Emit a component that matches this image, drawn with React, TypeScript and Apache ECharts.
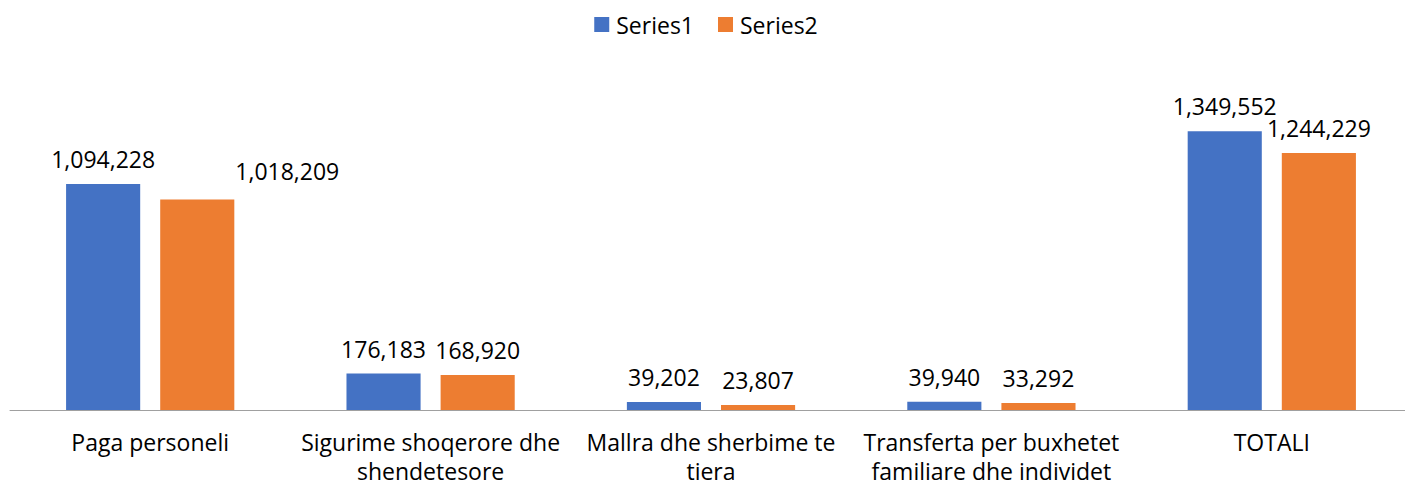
import React, { useEffect, useRef } from "react";
import * as echarts from "echarts";

const categories = [
  "Paga personeli",
  "Sigurime shoqerore dhe\nshendetesore",
  "Mallra dhe sherbime te\ntiera",
  "Transferta per buxhetet\nfamiliare dhe individet",
  "TOTALI",
];
const series1 = [1094228, 176183, 39202, 39940, 1349552];
const series2 = [1018209, 168920, 23807, 33292, 1244229];
const seriesNames = ["Series1", "Series2"];
const colors = ["#4472C4", "#ED7D31"];

const FONT = "'Open Sans', 'Noto Sans', sans-serif";

export default function App() {
  const ref = useRef<HTMLDivElement>(null);
  useEffect(() => {
    if (!ref.current) return;
    const chart = echarts.init(ref.current, null, { renderer: "svg" });
    const fmt = (p: any) => Number(p.value).toLocaleString("en-US");
    const labelBase = {
      show: true,
      position: "top",
      distance: 11,
      formatter: fmt,
      fontFamily: FONT,
      fontSize: 23,
      lineHeight: 28,
      color: "#000",
    };
    chart.setOption({
      animation: false,
      textStyle: { fontFamily: FONT },
      legend: {
        top: 8,
        left: "center",
        itemWidth: 15,
        itemHeight: 15,
        itemGap: 24,
        icon: "rect",
        textStyle: { fontFamily: FONT, fontSize: 23, color: "#000", padding: [0, 0, 0, 2] },
        data: seriesNames,
      },
      grid: {
        left: 10,
        right: 0,
        top: 79.4,
        bottom: 76,
        containLabel: false,
        outerBoundsMode: "none",
      },
      xAxis: {
        type: "category",
        data: categories,
        axisLine: { lineStyle: { color: "#a0a0a0", width: 1 } },
        axisTick: { show: false },
        axisLabel: {
          interval: 0,
          margin: 17,
          fontFamily: FONT,
          fontSize: 23,
          lineHeight: 29,
          color: "#000",
        },
      },
      yAxis: {
        type: "value",
        min: 0,
        max: 1600000,
        show: false,
        splitLine: { show: false },
      },
      series: [
        {
          name: seriesNames[0],
          type: "bar",
          data: series1,
          barGap: "27%",
          barCategoryGap: "40%",
          itemStyle: { color: colors[0] },
          label: labelBase,
        },
        {
          name: seriesNames[1],
          type: "bar",
          data: series2.map((v, i) =>
            i === 0 ? { value: v, label: { offset: [90, -4] } } : v
          ),
          barGap: "27%",
          barCategoryGap: "40%",
          itemStyle: { color: colors[1] },
          label: labelBase,
        },
      ],
    });
    return () => chart.dispose();
  }, []);
  return (
    <div
      ref={ref}
      style={{ position: "fixed", left: 0, top: 0, width: 1412, height: 486, background: "#fff" }}
    />
  );
}
